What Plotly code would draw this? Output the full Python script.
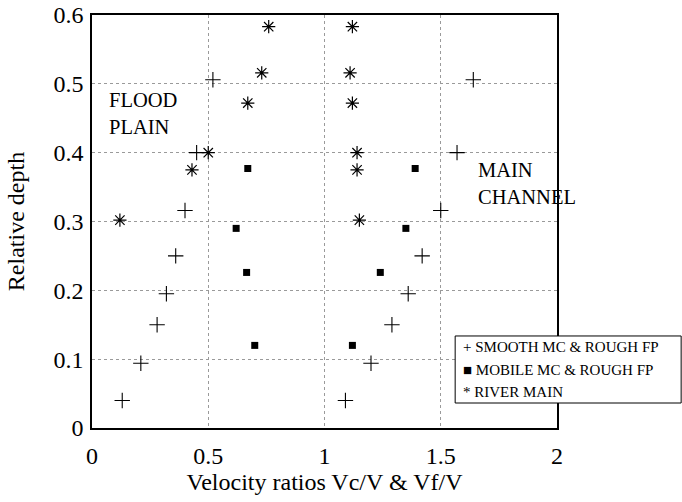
import plotly.graph_objects as go

# Relative depth at each measurement level and the velocity ratios
# on the flood plain (Vf/V) and in the main channel (Vc/V).
smooth_depth = [0.04, 0.094, 0.15, 0.195, 0.25, 0.316, 0.40, 0.506]
smooth_fp = [0.13, 0.21, 0.28, 0.32, 0.36, 0.40, 0.45, 0.52]
smooth_mc = [1.09, 1.20, 1.29, 1.36, 1.42, 1.50, 1.57, 1.64]

mobile_depth = [0.12, 0.226, 0.29, 0.377]
mobile_fp = [0.70, 0.665, 0.62, 0.67]
mobile_mc = [1.12, 1.24, 1.35, 1.39]

river_depth = [0.302, 0.375, 0.40, 0.472, 0.516, 0.583]
river_fp = [0.12, 0.43, 0.50, 0.67, 0.73, 0.76]
river_mc = [1.15, 1.14, 1.14, 1.12, 1.11, 1.12]

legend_labels = ["SMOOTH MC & ROUGH FP", "MOBILE MC & ROUGH FP", "RIVER MAIN"]
legend_glyphs = ["+", "\u25a0", "*"]

x_ticks = [0, 0.5, 1, 1.5, 2]
y_ticks = [0, 0.1, 0.2, 0.3, 0.4, 0.5, 0.6]

SERIF = "Liberation Serif, Times New Roman, serif"

fig = go.Figure()

fig.add_trace(go.Scatter(
    x=smooth_fp + smooth_mc, y=smooth_depth + smooth_depth,
    mode="markers", name=legend_labels[0],
    marker=dict(symbol="cross-thin-open", size=11, color="black",
                line=dict(color="black", width=1.1)),
))
fig.add_trace(go.Scatter(
    x=mobile_fp + mobile_mc, y=mobile_depth + mobile_depth,
    mode="markers", name=legend_labels[1],
    marker=dict(symbol="square", size=7, color="black"),
))
fig.add_trace(go.Scatter(
    x=river_fp + river_mc, y=river_depth + river_depth,
    mode="markers", name=legend_labels[2],
    marker=dict(symbol="asterisk-open", size=11, color="black",
                line=dict(color="black", width=1.2)),
))

axis_common = dict(
    showline=True, linecolor="black", linewidth=1.5, mirror=True,
    showgrid=True, gridcolor="#9a9a9a", gridwidth=1, griddash="dot",
    zeroline=False, ticks="", automargin=False,
    tickfont=dict(family=SERIF, size=24, color="black"),
    title_font=dict(family=SERIF, size=24, color="black"),
)

fig.update_xaxes(range=[0, 2], tickvals=x_ticks,
                 title_text="Velocity ratios Vc/V & Vf/V",
                 ticklabelstandoff=5, title_standoff=6, **axis_common)
fig.update_yaxes(range=[0, 0.6], tickvals=y_ticks,
                 title_text="Relative depth",
                 ticklabelstandoff=2, title_standoff=22, **axis_common)

annotations = [
    dict(x=0.065, y=0.496, xref="x", yref="y", xanchor="left", yanchor="top",
         text="FLOOD<br>PLAIN", align="left", showarrow=False,
         font=dict(family=SERIF, size=20.5, color="black")),
    dict(x=1.652, y=0.394, xref="x", yref="y", xanchor="left", yanchor="top",
         text="MAIN<br>CHANNEL", align="left", showarrow=False,
         font=dict(family=SERIF, size=20.5, color="black")),
]

# Boxed key placed over the lower-right corner of the frame
key_x0, key_x1, key_y0, key_y1 = 0.781, 1.267, 0.0605, 0.2228
row_y = [0.196, 0.1404, 0.0872]
for glyph, label, yy in zip(legend_glyphs, legend_labels, row_y):
    annotations.append(dict(
        x=0.7935, y=yy, xref="paper", yref="paper", xanchor="left",
        yanchor="middle", text=f"{glyph} {label}", showarrow=False,
        font=dict(family=SERIF, size=15, color="black")))

fig.update_layout(
    width=682, height=502,
    margin=dict(l=92, r=125, t=15, b=74, autoexpand=False),
    paper_bgcolor="white", plot_bgcolor="white",
    showlegend=False,
    annotations=annotations,
    shapes=[dict(type="rect", xref="paper", yref="paper",
                 x0=key_x0, x1=key_x1, y0=key_y0, y1=key_y1,
                 line=dict(color="black", width=1), fillcolor="white",
                 layer="above")],
)

fig.write_html("out.html")
